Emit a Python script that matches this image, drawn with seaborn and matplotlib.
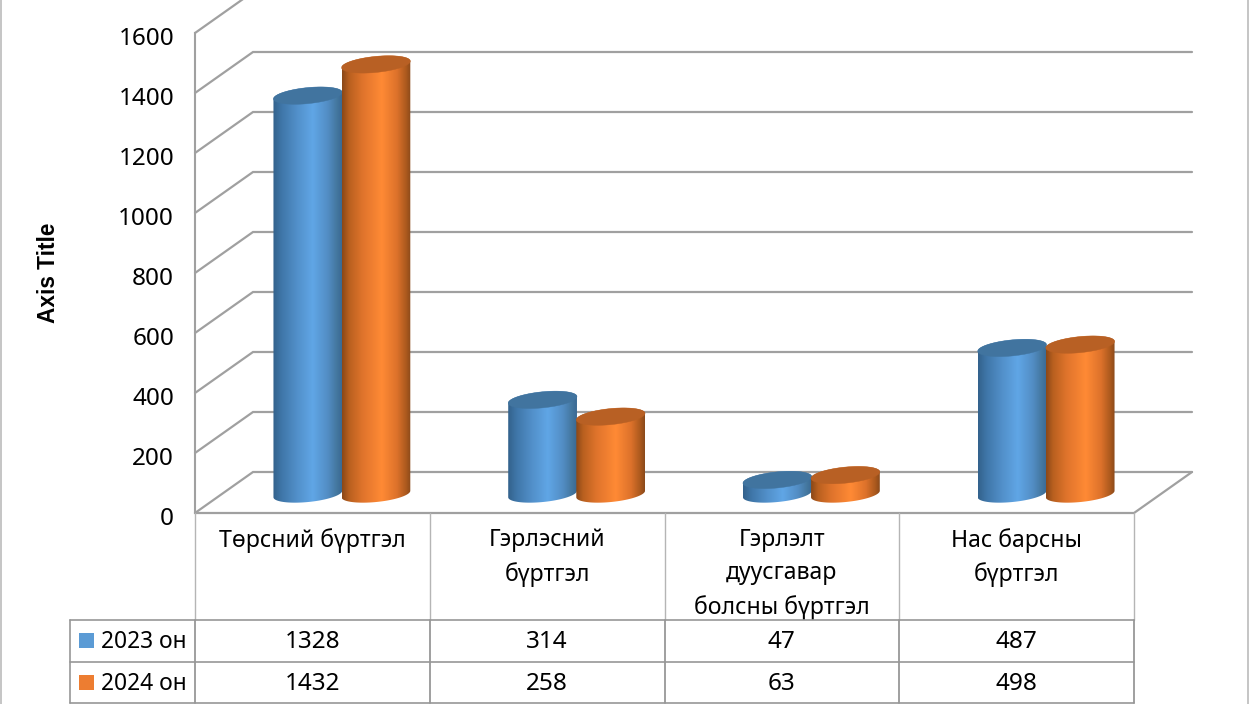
import numpy as np
import pandas as pd
import matplotlib
matplotlib.use('Agg')
import matplotlib.pyplot as plt
import seaborn as sns
from matplotlib.colors import LinearSegmentedColormap
from matplotlib.patches import Polygon, Rectangle
from matplotlib.transforms import ScaledTranslation

categories = ['Төрсний бүртгэл', 'Гэрлэсний\nбүртгэл', 'Гэрлэлт\nдуусгавар\nболсны бүртгэл', 'Нас барсны\nбүртгэл']
years = ['2023 он', '2024 он']
values_2023 = [1328, 314, 47, 487]
values_2024 = [1432, 258, 63, 498]
y_ticks = [0, 200, 400, 600, 800, 1000, 1200, 1400, 1600]

W, H = 1250, 704
GRID = '#a0a0a0'
TABLE = '#979797'

sns.set_theme(style='white')
plt.rcParams['font.family'] = ['Noto Sans', 'DejaVu Sans']

df = pd.DataFrame({
    'category': categories * 2,
    'year': [years[0]] * 4 + [years[1]] * 4,
    'value': values_2023 + values_2024,
})

fig = plt.figure(figsize=(W / 100, H / 100), dpi=100)


def axes_px(left, right, bottom, top):
    # axes from pixel edges, y counted from the top of the picture
    return fig.add_axes([left / W, 1 - bottom / H, (right - left) / W, (bottom - top) / H])


# front plane holds the value axis and category labels
ax = axes_px(195, 1134, 513, 33)
ax.patch.set_visible(False)
# middle plane holds the bars, further back along the floor
bar_ax = axes_px(224.5, 1163.5, 494, 14)
bar_ax.patch.set_visible(False)
sns.barplot(data=df, x='category', y='value', hue='year', palette=['#5B9BD5', '#ED7D31'],
            width=0.58, gap=0, legend=False, ax=bar_ax, saturation=1)
bar_ax.set_xlim(-0.5, 3.5)
bar_ax.set_ylim(0, 1600)
bar_ax.axis('off')

ax.set_xlim(-0.5, 3.5)
ax.set_ylim(0, 1600)
ax.set_yticks(y_ticks)
ax.set_xticks(range(4))
ax.set_xticklabels(categories, fontsize=16.6, linespacing=1.5, color='black', va='top')
ax.tick_params(axis='y', length=0, pad=15, labelsize=17.5, labelcolor='black')
ax.tick_params(axis='x', length=0, pad=11)
nudge = ScaledTranslation(0, -2 / 72, fig.dpi_scale_trans)
for lab in ax.get_yticklabels():
    lab.set_transform(lab.get_transform() + nudge)
ax.set_ylabel('Axis Title', fontsize=16.3, fontweight='bold', family='Liberation Sans', color='black', labelpad=42)
for name in ['top', 'right', 'bottom']:
    ax.spines[name].set_visible(False)
ax.spines['left'].set_color(GRID)
ax.spines['left'].set_linewidth(1.5)

# overlay in picture pixels for the 3d part and the data table
ov = fig.add_axes([0, 0, 1, 1], zorder=5)
ov.patch.set_visible(False)
ov.set_xlim(0, W)
ov.set_ylim(H, 0)
ov.axis('off')


def to_px(axis, x, y):
    px = axis.transData.transform((x, y))
    return px[0], H - px[1]


# walls and floor
depth_x, depth_y = 58, -41
for v in y_ticks:
    x0, y0 = to_px(ax, -0.5, v)
    ov.plot([x0, x0 + depth_x, to_px(ax, 3.5, v)[0] + depth_x], [y0, y0 + depth_y, y0 + depth_y],
            color=GRID, lw=1.6, zorder=1, solid_joinstyle='miter')
xr, yb = to_px(ax, 3.5, 0)
xl = to_px(ax, -0.5, 0)[0]
ov.plot([xl, xr, xr + depth_x], [yb, yb, yb + depth_y], color=GRID, lw=1.6, zorder=1)

blue_cmap = LinearSegmentedColormap.from_list('blue', [
    (0, '#33628c'), (0.12, '#3f76a8'), (0.35, '#5290ca'), (0.58, '#60a6e6'),
    (0.8, '#528dc4'), (0.93, '#44779f'), (1, '#3a6a94')])
orange_cmap = LinearSegmentedColormap.from_list('orange', [
    (0, '#8a4818'), (0.1, '#b9601f'), (0.3, '#e0742c'), (0.58, '#ff8a35'),
    (0.8, '#dd722b'), (0.93, '#ad5a1e'), (1, '#8c4a1a')])
CAP = {0: '#41749f', 1: '#b86024'}

tilt = np.radians(5.7)
minor = 8
# start the outline at its leftmost point, half way round is the rightmost
t0 = np.pi - np.arctan(minor / 35 * np.tan(tilt))
t = np.linspace(t0, t0 + 2 * np.pi, 181)


def ellipse(cx, cy, major):
    xs = cx + major * np.cos(t) * np.cos(tilt) - minor * np.sin(t) * np.sin(tilt)
    ys = cy - (major * np.cos(t) * np.sin(tilt) + minor * np.sin(t) * np.cos(tilt))
    return np.column_stack([xs, ys])


# cylinders follow the seaborn bars
bars = list(bar_ax.patches)
for i, p in enumerate(bars):
    p.set_visible(False)
    series = i // 4
    left, base = to_px(bar_ax, p.get_x(), 0)
    right, top = to_px(bar_ax, p.get_x() + p.get_width(), p.get_height())
    cx = (left + right) / 2
    major = (right - left) / 2 + 0.5
    low = ellipse(cx, base, major)
    up = ellipse(cx, top, major)
    body = np.vstack([low[:91], up[90:]])
    clip = Polygon(body, closed=True, transform=ov.transData, fc='none', ec='none')
    ov.add_patch(clip)
    z = 3 + series
    cmap = blue_cmap if series == 0 else orange_cmap
    img = ov.imshow(np.linspace(0, 1, 128).reshape(1, -1), cmap=cmap, aspect='auto',
                    extent=[body[:, 0].min(), body[:, 0].max(), base + 12, top - 12],
                    interpolation='bilinear', zorder=z)
    img.set_clip_path(clip)
    ov.add_patch(Polygon(up, closed=True, fc=CAP[series], ec=CAP[series], lw=0.3, zorder=z))
ov.set_xlim(0, W)
ov.set_ylim(H, 0)

# data table under the chart
col_edges = [to_px(ax, c - 0.5, 0)[0] for c in range(5)]
row_edges = [620, 662, 703]
table_left = 70
for x in col_edges:
    ov.plot([x, x], [yb, row_edges[0]], color='#b5b5b5', lw=1, zorder=1)
    ov.plot([x, x], [row_edges[0], row_edges[-1]], color=TABLE, lw=1.3, zorder=1)
ov.plot([table_left, table_left], [row_edges[0], row_edges[-1]], color=TABLE, lw=1.2, zorder=1)
for y in row_edges:
    ov.plot([table_left, col_edges[-1]], [y, y], color=TABLE, lw=1.2, zorder=1)

for r, (name, row, colour) in enumerate(zip(years, [values_2023, values_2024], ['#5B9BD5', '#ED7D31'])):
    yc = (row_edges[r] + row_edges[r + 1]) / 2
    ov.add_patch(Rectangle((79, yc - 8), 15, 15, fc=colour, ec='none', zorder=2))
    ov.text(101, yc + 1, name, fontsize=16.4, va='center', ha='left', color='black')
    for c, v in enumerate(row):
        ov.text((col_edges[c] + col_edges[c + 1]) / 2, yc + 1, str(v), fontsize=17.5, va='center', ha='center', color='black')

# outer chart frame
ov.plot([0.5, 0.5], [0, H], color='#bbbbbb', lw=1.2, zorder=1)
ov.plot([1248, 1248], [0, H], color='#bbbbbb', lw=1.2, zorder=1)

fig.savefig('out.png', dpi=100, facecolor='white')
